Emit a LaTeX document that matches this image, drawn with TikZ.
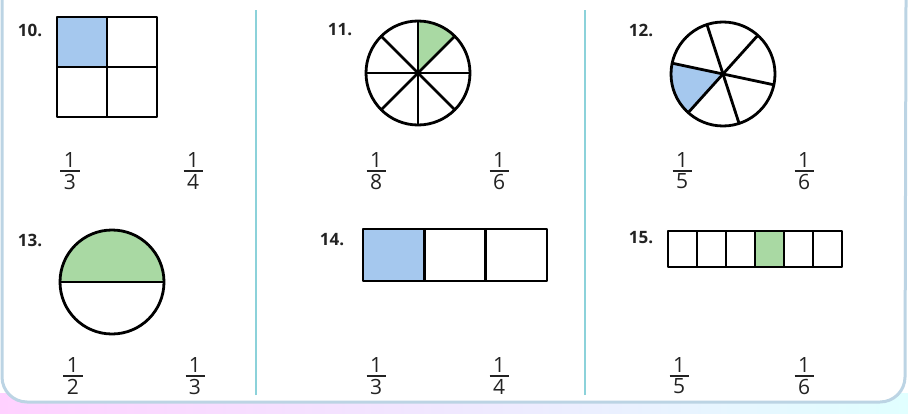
\documentclass[tikz,border=0pt]{standalone}
\usepackage{amsmath}
\usepackage{fontspec}
\setmainfont{Open Sans}
\usepackage{tikz}
\definecolor{fillblue}{RGB}{165, 200, 238}
\definecolor{fillgreen}{RGB}{169, 217, 163}
\definecolor{lineteal}{RGB}{140, 210, 218}
\definecolor{rimblue}{RGB}{188, 212, 228}
\definecolor{inkgray}{RGB}{35, 35, 35}
\newcommand{\bruch}[2]{$\genfrac{}{}{1pt}{1}{\hbox{\,#1\,}}{\hbox{\,#2\,}}$}

\begin{document}
\begin{tikzpicture}[x=0.5pt, y=0.5pt,
				figur/.style={draw=black, line width=1.4pt, line join=round},
				nummer/.style={font=\fontsize{8.5}{10}\selectfont\bfseries, text=inkgray, inner sep=0pt},
				bruchtext/.style={font=\fontsize{10.5}{12}\selectfont, text=inkgray, inner sep=0pt},
				trenner/.style={lineteal, line width=0.9pt}]
				%Bildbereich
				\useasboundingbox (0,0) rectangle (908,413);
				% Rahmen unten
				\shade[left color=magenta!18, right color=cyan!12] (0,0) rectangle (908,20);
				\fill[white] (2,413) -- (2,36) arc[start angle=180, end angle=270, radius=25] -- (880,11) arc[start angle=270, end angle=360, radius=25] -- (906,413) -- cycle;
				\draw[rimblue, line width=1.5pt] (2,413) -- (2,36) arc[start angle=180, end angle=270, radius=25] -- (880,11) arc[start angle=270, end angle=360, radius=25] -- (906,413);
				% Trennlinien
				\draw[trenner] (256,18) -- (256,403);
				\draw[trenner] (585,18) -- (585,403);
				% Mittelpunkte der Kreise
				\coordinate (m11) at (418,340);
				\coordinate (m12) at (723,339);
				\coordinate (m13) at (112,131);
				% Aufgabe 10
				\fill[fillblue] (57,346) rectangle (107,396);
				\draw[figur] (57,296) rectangle (157,396);
				\draw[figur] (107,296) -- (107,396) (57,346) -- (157,346);
				% Aufgabe 11
				\fill[fillgreen] (m11) -- ++(45:52) arc[start angle=45, end angle=90, radius=52] -- cycle;
				\foreach \w in {0,45,90,135} \draw[figur] (m11) ++(\w:52) -- ++(\w+180:104);
				\draw[figur] (m11) circle[radius=52];
				% Aufgabe 12
				\fill[fillblue] (m12) -- ++(168:52) arc[start angle=168, end angle=228, radius=52] -- cycle;
				\foreach \w in {-132,-72,...,168} \draw[figur] (m12) -- ++(\w:52);
				\draw[figur] (m12) circle[radius=52];
				% Aufgabe 13
				\fill[fillgreen] (m13) ++(52,0) arc[start angle=0, end angle=180, radius=52] -- cycle;
				\draw[figur] (m13) circle[radius=52];
				\draw[figur] (m13) ++(-52,0) -- ++(104,0);
				% Aufgabe 14
				\fill[fillblue] (363,132) rectangle (424.3,184);
				\draw[figur] (363,132) rectangle (547,184);
				\foreach \i in {1,2} \draw[figur] (363+61.33*\i,132) -- ++(0,52);
				% Aufgabe 15
				\fill[fillgreen] (755,146) rectangle (784,182);
				\draw[figur] (668,146) rectangle (842,182);
				\foreach \i in {1,...,5} \draw[figur] (668+29*\i,146) -- ++(0,36);
				% Nummern
				\node[nummer] (n10) at (30,383) {10.};
				\node[nummer] (n11) at (340,383) {11.};
				\node[nummer] (n12) at (641,383) {12.};
				\node[nummer] (n13) at (30,173) {13.};
				\node[nummer] (n14) at (332,173) {14.};
				\node[nummer] (n15) at (641,175) {15.};
				% Brueche
				\node[bruchtext] (b10a) at (70,242) {\bruch{1}{3}};
				\node[bruchtext] (b10b) at (193,242) {\bruch{1}{4}};
				\node[bruchtext] (b11a) at (376,242) {\bruch{1}{8}};
				\node[bruchtext] (b11b) at (499,242) {\bruch{1}{6}};
				\node[bruchtext] (b12a) at (682,242) {\bruch{1}{5}};
				\node[bruchtext] (b12b) at (804,242) {\bruch{1}{6}};
				\node[bruchtext] (b13a) at (73,37) {\bruch{1}{2}};
				\node[bruchtext] (b13b) at (195,37) {\bruch{1}{3}};
				\node[bruchtext] (b14a) at (376,37) {\bruch{1}{3}};
				\node[bruchtext] (b14b) at (499,37) {\bruch{1}{4}};
				\node[bruchtext] (b15a) at (679,37) {\bruch{1}{5}};
				\node[bruchtext] (b15b) at (804,37) {\bruch{1}{6}};
			\end{tikzpicture}
\end{document}
